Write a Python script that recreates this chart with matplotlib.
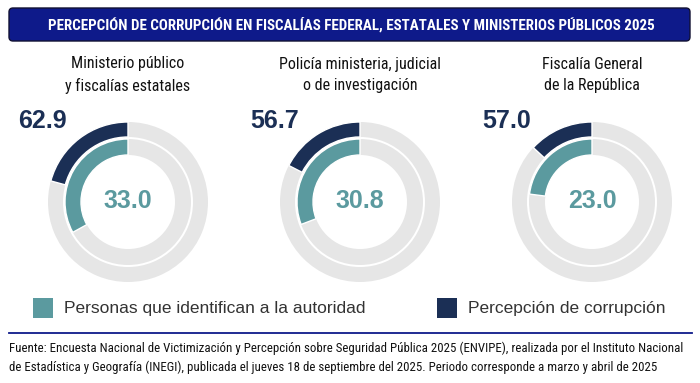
import matplotlib
matplotlib.use("Agg")
import matplotlib.pyplot as plt
from matplotlib.patches import Wedge, FancyBboxPatch, Rectangle

# data
titles = ["Ministerio público\ny fiscalías estatales",
          "Policía ministeria, judicial\no de investigación",
          "Fiscalía General\nde la República"]
identifican = [33.0, 30.8, 23.0]   # % que identifican a la autoridad
corrupcion = [62.9, 56.7, 57.0]    # % de esos que perciben corrupción

TEAL = "#5b9a9f"
NAVY = "#1b2f55"
GRAY = "#e6e6e6"
BANNER = "#0e1a8a"
NARROW = ["Roboto Condensed", "Archivo Narrow", "Barlow Condensed", "DejaVu Sans"]
SANS = ["Liberation Sans", "DejaVu Sans"]

W, H = 700, 383
fig = plt.figure(figsize=(7, 3.83), dpi=100)
ax = fig.add_axes([0, 0, 1, 1])
ax.set_xlim(0, W)
ax.set_ylim(0, H)
ax.set_aspect("equal")
ax.axis("off")

def Y(y):  # image y (from top) -> axes y
    return H - y

# banner
ax.add_patch(FancyBboxPatch((9, Y(41)), 681, 33, boxstyle="round,pad=0,rounding_size=4",
                            fc=BANNER, ec="#111133", lw=1))
ax.text(351, Y(24.5), "PERCEPCIÓN DE CORRUPCIÓN EN FISCALÍAS FEDERAL, ESTATALES Y MINISTERIOS PÚBLICOS 2025",
        color="white", fontsize=10.8, fontweight="bold", family=NARROW, ha="center", va="center")

centers = [128, 360, 592]
cy = Y(202)
r_out, w_out = 80, 15
r_in, w_in = 63, 16

for cx, t, p, c in zip(centers, titles, identifican, corrupcion):
    ax.text(cx, Y(75), t, ha="center", va="center", fontsize=11.5, family=NARROW,
            color="#111111", linespacing=1.5)
    # gray tracks
    ax.add_patch(Wedge((cx, cy), r_out, 0, 360, width=w_out, fc=GRAY, ec="none"))
    ax.add_patch(Wedge((cx, cy), r_in, 0, 360, width=w_in, fc=GRAY, ec="none"))
    # inner: share identifying the authority
    ax.add_patch(Wedge((cx, cy), r_in, 90, 90 + 3.6 * p, width=w_in, fc=TEAL,
                       ec="white", lw=1))
    # outer: corruption perception among them
    ax.add_patch(Wedge((cx, cy), r_out, 90, 90 + 3.6 * p * c / 100, width=w_out,
                       fc=NAVY, ec="white", lw=1))
    ax.text(cx, Y(201), f"{p:.1f}", ha="center", va="center", fontsize=18,
            fontweight="bold", color=TEAL, family=SANS)
    ax.text(cx - 110, Y(121), f"{c:.1f}", ha="left", va="center", fontsize=18,
            fontweight="bold", color=NAVY, family=SANS)

# legend
ax.add_patch(Rectangle((33, Y(318)), 20, 20, fc=TEAL, ec="none"))
ax.text(64, Y(308), "Personas que identifican a la autoridad", fontsize=12.5,
        family=SANS, color="#333333", va="center")
ax.add_patch(Rectangle((437, Y(318)), 20, 20, fc=NAVY, ec="none"))
ax.text(468, Y(308), "Percepción de corrupción", fontsize=12.5,
        family=SANS, color="#333333", va="center")

ax.plot([9, 692], [Y(333), Y(333)], color=BANNER, lw=1.3)
ax.text(9, Y(348), "Fuente: Encuesta Nacional de Victimización y Percepción sobre Seguridad Pública 2025 (ENVIPE), "
        "realizada por el Instituto Nacional", fontsize=9.3, family=NARROW, va="center", color="#111111")
ax.text(9, Y(367), "de Estadística y Geografía (INEGI), publicada el jueves 18 de septiembre del 2025. "
        "Periodo corresponde a marzo y abril de 2025", fontsize=9.3, family=NARROW, va="center", color="#111111")

fig.savefig("out.png", dpi=100, facecolor="white")
